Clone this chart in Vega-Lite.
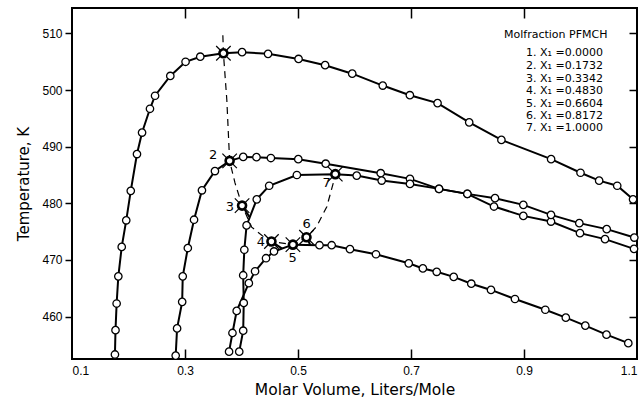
{
  "$schema": "https://vega.github.io/schema/vega-lite/v6.json",
  "width": 565,
  "height": 351,
  "autosize": "none",
  "padding": {"left": 72, "top": 8, "right": 4, "bottom": 40},
  "background": "white",
  "config": {
    "view": {"stroke": "black", "strokeWidth": 2},
    "axis": {"domain": false, "grid": false, "ticks": true, "tickColor": "black", "labelColor": "black", "titleColor": "black", "labelFont": "Liberation Sans", "titleFont": "DejaVu Sans", "titleFontWeight": "normal"}
  },
  "datasets": {
    "pts": [
      {"c": "1", "k": "o", "v": 0.176, "T": 453.3},
      {"c": "1", "k": "o", "v": 0.177, "T": 457.6},
      {"c": "1", "k": "o", "v": 0.179, "T": 462.3},
      {"c": "1", "k": "o", "v": 0.182, "T": 467.1},
      {"c": "1", "k": "o", "v": 0.188, "T": 472.3},
      {"c": "1", "k": "o", "v": 0.196, "T": 477.0},
      {"c": "1", "k": "o", "v": 0.204, "T": 482.2},
      {"c": "1", "k": "o", "v": 0.215, "T": 488.7},
      {"c": "1", "k": "o", "v": 0.224, "T": 492.5},
      {"c": "1", "k": "o", "v": 0.238, "T": 496.7},
      {"c": "1", "k": "o", "v": 0.247, "T": 499.0},
      {"c": "1", "k": "o", "v": 0.274, "T": 502.5},
      {"c": "1", "k": "o", "v": 0.301, "T": 505.0},
      {"c": "1", "k": "o", "v": 0.327, "T": 505.9},
      {"c": "1", "k": "c", "v": 0.368, "T": 506.5},
      {"c": "1", "k": "o", "v": 0.401, "T": 506.7},
      {"c": "1", "k": "o", "v": 0.447, "T": 506.4},
      {"c": "1", "k": "o", "v": 0.501, "T": 505.5},
      {"c": "1", "k": "o", "v": 0.548, "T": 504.4},
      {"c": "1", "k": "o", "v": 0.596, "T": 502.9},
      {"c": "1", "k": "o", "v": 0.650, "T": 500.8},
      {"c": "1", "k": "o", "v": 0.698, "T": 499.1},
      {"c": "1", "k": "o", "v": 0.747, "T": 497.7},
      {"c": "1", "k": "o", "v": 0.803, "T": 494.3},
      {"c": "1", "k": "o", "v": 0.860, "T": 491.2},
      {"c": "1", "k": "o", "v": 0.948, "T": 487.8},
      {"c": "1", "k": "o", "v": 1.000, "T": 485.4},
      {"c": "1", "k": "o", "v": 1.033, "T": 484.0},
      {"c": "1", "k": "o", "v": 1.065, "T": 483.1},
      {"c": "1", "k": "o", "v": 1.093, "T": 480.7},

      {"c": "2", "k": "o", "v": 0.2835, "T": 453.1},
      {"c": "2", "k": "o", "v": 0.286, "T": 457.9},
      {"c": "2", "k": "o", "v": 0.295, "T": 462.6},
      {"c": "2", "k": "o", "v": 0.296, "T": 467.1},
      {"c": "2", "k": "o", "v": 0.305, "T": 472.1},
      {"c": "2", "k": "o", "v": 0.316, "T": 477.1},
      {"c": "2", "k": "o", "v": 0.330, "T": 482.3},
      {"c": "2", "k": "o", "v": 0.353, "T": 485.7},
      {"c": "2", "k": "c", "v": 0.379, "T": 487.5},
      {"c": "2", "k": "o", "v": 0.403, "T": 488.2},
      {"c": "2", "k": "o", "v": 0.4265, "T": 488.15},
      {"c": "2", "k": "o", "v": 0.452, "T": 488.0},
      {"c": "2", "k": "o", "v": 0.5005, "T": 487.8},
      {"c": "2", "k": "o", "v": 0.549, "T": 487.0},
      {"c": "2", "k": "o", "v": 0.6464, "T": 485.32},
      {"c": "2", "k": "o", "v": 0.6982, "T": 484.32},
      {"c": "2", "k": "o", "v": 0.7496, "T": 482.55},
      {"c": "2", "k": "o", "v": 0.7997, "T": 481.67},
      {"c": "2", "k": "o", "v": 0.8469, "T": 479.43},
      {"c": "2", "k": "o", "v": 0.8988, "T": 477.78},
      {"c": "2", "k": "o", "v": 0.9478, "T": 476.78},
      {"c": "2", "k": "o", "v": 0.9991, "T": 474.73},
      {"c": "2", "k": "o", "v": 1.0434, "T": 473.67},
      {"c": "2", "k": "o", "v": 1.0947, "T": 471.96},

      {"c": "3", "k": "c", "v": 0.401, "T": 479.6},
      {"c": "3", "k": "j", "v": 0.414, "T": 477.6},

      {"c": "4", "k": "c", "v": 0.453, "T": 473.25},
      {"c": "4", "k": "j", "v": 0.472, "T": 472.0},

      {"c": "5", "k": "o", "v": 0.378, "T": 453.8},
      {"c": "5", "k": "o", "v": 0.384, "T": 457.1},
      {"c": "5", "k": "o", "v": 0.3915, "T": 461.0},
      {"c": "5", "k": "o", "v": 0.413, "T": 465.9},
      {"c": "5", "k": "o", "v": 0.424, "T": 468.0},
      {"c": "5", "k": "o", "v": 0.4434, "T": 470.3},
      {"c": "5", "k": "o", "v": 0.4575, "T": 471.5},
      {"c": "5", "k": "c", "v": 0.491, "T": 472.7},
      {"c": "5", "k": "o", "v": 0.538, "T": 472.6},
      {"c": "5", "k": "o", "v": 0.5596, "T": 472.6},
      {"c": "5", "k": "o", "v": 0.592, "T": 471.9},
      {"c": "5", "k": "o", "v": 0.638, "T": 471.0},
      {"c": "5", "k": "o", "v": 0.696, "T": 469.4},
      {"c": "5", "k": "o", "v": 0.721, "T": 468.5},
      {"c": "5", "k": "o", "v": 0.7455, "T": 467.9},
      {"c": "5", "k": "o", "v": 0.7756, "T": 467.0},
      {"c": "5", "k": "o", "v": 0.8067, "T": 465.8},
      {"c": "5", "k": "o", "v": 0.8416, "T": 464.7},
      {"c": "5", "k": "o", "v": 0.884, "T": 463.1},
      {"c": "5", "k": "o", "v": 0.9377, "T": 461.2},
      {"c": "5", "k": "o", "v": 0.974, "T": 459.8},
      {"c": "5", "k": "o", "v": 1.0085, "T": 458.4},
      {"c": "5", "k": "o", "v": 1.046, "T": 456.8},
      {"c": "5", "k": "o", "v": 1.0846, "T": 455.3},

      {"c": "6", "k": "c", "v": 0.515, "T": 474.0},
      {"c": "6", "k": "j", "v": 0.522, "T": 472.6},

      {"c": "7", "k": "o", "v": 0.396, "T": 453.8},
      {"c": "7", "k": "o", "v": 0.403, "T": 457.5},
      {"c": "7", "k": "o", "v": 0.404, "T": 462.4},
      {"c": "7", "k": "o", "v": 0.403, "T": 467.3},
      {"c": "7", "k": "o", "v": 0.405, "T": 471.8},
      {"c": "7", "k": "o", "v": 0.409, "T": 476.1},
      {"c": "7", "k": "o", "v": 0.427, "T": 480.7},
      {"c": "7", "k": "o", "v": 0.449, "T": 483.1},
      {"c": "7", "k": "o", "v": 0.498, "T": 485.0},
      {"c": "7", "k": "c", "v": 0.566, "T": 485.15},
      {"c": "7", "k": "o", "v": 0.6039, "T": 484.9},
      {"c": "7", "k": "o", "v": 0.6481, "T": 484.02},
      {"c": "7", "k": "o", "v": 0.6982, "T": 483.43},
      {"c": "7", "k": "o", "v": 0.7496, "T": 482.55},
      {"c": "7", "k": "o", "v": 0.7997, "T": 481.67},
      {"c": "7", "k": "o", "v": 0.8487, "T": 480.91},
      {"c": "7", "k": "o", "v": 0.8988, "T": 479.73},
      {"c": "7", "k": "o", "v": 0.9478, "T": 477.96},
      {"c": "7", "k": "o", "v": 0.9979, "T": 476.5},
      {"c": "7", "k": "o", "v": 1.0464, "T": 475.44},
      {"c": "7", "k": "o", "v": 1.0952, "T": 473.95}
    ],
    "locus": [
      {"v": 0.367, "T": 509.7},
      {"v": 0.368, "T": 506.5},
      {"v": 0.374, "T": 498.3},
      {"v": 0.379, "T": 487.5},
      {"v": 0.3885, "T": 483.6},
      {"v": 0.401, "T": 479.6},
      {"v": 0.418, "T": 475.8},
      {"v": 0.439, "T": 474.1},
      {"v": 0.453, "T": 473.25},
      {"v": 0.491, "T": 472.7},
      {"v": 0.515, "T": 474.0},
      {"v": 0.533, "T": 475.9},
      {"v": 0.551, "T": 479.4},
      {"v": 0.5625, "T": 483.6},
      {"v": 0.566, "T": 485.15}
    ],
    "labels": [
      {"v": 0.3496, "T": 488.55, "t": "2"},
      {"v": 0.3796, "T": 479.4, "t": "3"},
      {"v": 0.4345, "T": 473.2, "t": "4"},
      {"v": 0.4906, "T": 470.3, "t": "5"},
      {"v": 0.5154, "T": 476.4, "t": "6"},
      {"v": 0.5508, "T": 483.6, "t": "7"}
    ],
    "legend": [
      {"v": 0.8646, "T": 509.7, "t": "Molfraction PFMCH"},
      {"v": 0.9035, "T": 506.56, "t": "1. X₁ =0.0000"},
      {"v": 0.9035, "T": 504.26, "t": "2. X₁ =0.1732"},
      {"v": 0.9035, "T": 501.97, "t": "3. X₁ =0.3342"},
      {"v": 0.9035, "T": 499.85, "t": "4. X₁ =0.4830"},
      {"v": 0.9035, "T": 497.56, "t": "5. X₁ =0.6604"},
      {"v": 0.9035, "T": 495.44, "t": "6. X₁ =0.8172"},
      {"v": 0.9035, "T": 493.32, "t": "7. X₁ =1.0000"}
    ]
  },
  "resolve": {"axis": {"x": "independent", "y": "independent"}},
  "layer": [
    {
      "data": {"name": "pts"},
      "mark": {"type": "line", "color": "black", "strokeWidth": 2},
      "encoding": {
        "x": {"field": "v", "type": "quantitative", "scale": {"domain": [0.1, 1.1], "nice": false, "zero": false},
              "axis": {"orient": "bottom", "values": [0.3, 0.5, 0.7, 0.9], "labels": false, "tickSize": -10, "tickWidth": 1.5, "title": null}},
        "y": {"field": "T", "type": "quantitative", "scale": {"domain": [452.5, 514.5], "nice": false, "zero": false},
              "axis": {"orient": "left", "values": [460, 470, 480, 490, 500, 510], "labelFontSize": 12, "tickSize": 7, "tickWidth": 1.5, "labelPadding": 3, "title": "Temperature, K", "titleFontSize": 15, "titlePadding": 10}},
        "detail": {"field": "c"},
        "order": {"value": null}
      }
    },
    {
      "data": {"name": "locus"},
      "mark": {"type": "line", "color": "black", "strokeWidth": 1.2, "strokeDash": [7, 5]},
      "encoding": {
        "x": {"field": "v", "type": "quantitative", "axis": {"orient": "top", "values": [0.3, 0.5, 0.7, 0.9], "labels": false, "title": null, "tickSize": -10, "tickWidth": 1.5}},
        "y": {"field": "T", "type": "quantitative", "axis": {"orient": "right", "values": [460, 470, 480, 490, 500, 510], "labels": false, "title": null, "tickSize": -8, "tickWidth": 1.5}},
        "order": {"value": null}
      }
    },
    {
      "data": {"name": "pts"},
      "transform": [{"filter": "datum.k === 'o'"}],
      "mark": {"type": "point", "shape": "circle", "filled": true, "fill": "white", "stroke": "black", "strokeWidth": 1.3, "size": 55, "opacity": 1},
      "encoding": {
        "x": {"field": "v", "type": "quantitative", "axis": {"orient": "bottom", "values": [0.1, 0.3, 0.5, 0.7, 0.9, 1.1], "format": ".1f", "labelFontSize": 12, "ticks": false, "labelPadding": 6, "title": "Molar Volume, Liters/Mole", "titleFontSize": 15.5, "titlePadding": 6}},
        "y": {"field": "T", "type": "quantitative", "axis": null}
      }
    },
    {
      "data": {"name": "pts"},
      "transform": [{"filter": "datum.k === 'c'"}],
      "mark": {"type": "point", "shape": "M-1,-1L-0.45,-0.45M1,-1L0.45,-0.45M-1,1L-0.45,0.45M1,1L0.45,0.45", "filled": false, "stroke": "black", "strokeWidth": 1.2, "size": 210, "opacity": 1},
      "encoding": {
        "x": {"field": "v", "type": "quantitative", "axis": null},
        "y": {"field": "T", "type": "quantitative", "axis": null}
      }
    },
    {
      "data": {"name": "pts"},
      "transform": [{"filter": "datum.k === 'c'"}],
      "mark": {"type": "point", "shape": "circle", "filled": true, "fill": "white", "stroke": "black", "strokeWidth": 2.6, "size": 64, "opacity": 1},
      "encoding": {
        "x": {"field": "v", "type": "quantitative", "axis": null},
        "y": {"field": "T", "type": "quantitative", "axis": null}
      }
    },
    {
      "data": {"name": "labels"},
      "mark": {"type": "text", "font": "DejaVu Sans", "fontSize": 13, "color": "black", "align": "center", "baseline": "middle"},
      "encoding": {
        "x": {"field": "v", "type": "quantitative", "axis": null},
        "y": {"field": "T", "type": "quantitative", "axis": null},
        "text": {"field": "t"}
      }
    },
    {
      "data": {"name": "legend"},
      "mark": {"type": "text", "font": "DejaVu Sans", "fontSize": 11, "color": "black", "align": "left", "baseline": "middle"},
      "encoding": {
        "x": {"field": "v", "type": "quantitative", "axis": null},
        "y": {"field": "T", "type": "quantitative", "axis": null},
        "text": {"field": "t"}
      }
    }
  ]
}
